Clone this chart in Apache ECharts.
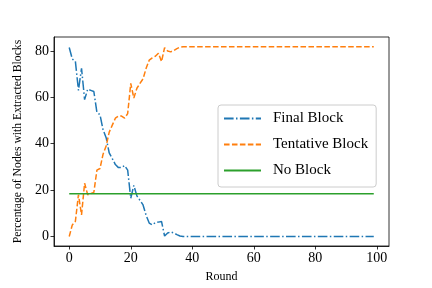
<!DOCTYPE html>
<html>
<head>
<meta charset="utf-8">
<script src="https://cdn.jsdelivr.net/npm/echarts@6/dist/echarts.min.js"></script>
<style>html,body{margin:0;padding:0;background:#fff}#c{width:432px;height:288px}</style>
</head>
<body>
<div id="c"></div>
<script>
var seriesNames = ['Final Block', 'Tentative Block', 'No Block'];
var xTicks = [0, 20, 40, 60, 80, 100];
var yTicks = [0, 20, 40, 60, 80];
var finalBlock = [81.5, 76.5, 75.5, 63, 72.5, 59, 63.5, 63, 62.5, 53.5,
  52.5, 46, 42.6, 36, 33.6, 31, 29.7, 29.7, 30.6, 28.6,
  16.5, 22, 17.5, 15.6, 13.6, 9.1, 5.8, 5, 6, 6.2,
  6.5, 0.2, 1.5, 2, 1.5, 0.8, 0.2, 0, 0, 0,
  0, 0, 0, 0, 0, 0, 0, 0, 0, 0,
  0, 0, 0, 0, 0, 0, 0, 0, 0, 0,
  0, 0, 0, 0, 0, 0, 0, 0, 0, 0,
  0, 0, 0, 0, 0, 0, 0, 0, 0, 0,
  0, 0, 0, 0, 0, 0, 0, 0, 0, 0,
  0, 0, 0, 0, 0, 0, 0, 0, 0, 0];
var tentativeBlock = [0, 5, 6.5, 18, 9.3, 23, 18, 18.5, 19, 28.6,
  29.3, 35.5, 39, 45, 48, 51, 51.9, 51.9, 51, 53,
  66, 59.7, 63.9, 66, 68, 72.5, 76, 77, 77.7, 79,
  75.4, 81.4, 80, 79.6, 80.2, 81, 81.6, 81.8, 81.8, 81.8,
  81.8, 81.8, 81.8, 81.8, 81.8, 81.8, 81.8, 81.8, 81.8, 81.8,
  81.8, 81.8, 81.8, 81.8, 81.8, 81.8, 81.8, 81.8, 81.8, 81.8,
  81.8, 81.8, 81.8, 81.8, 81.8, 81.8, 81.8, 81.8, 81.8, 81.8,
  81.8, 81.8, 81.8, 81.8, 81.8, 81.8, 81.8, 81.8, 81.8, 81.8,
  81.8, 81.8, 81.8, 81.8, 81.8, 81.8, 81.8, 81.8, 81.8, 81.8,
  81.8, 81.8, 81.8, 81.8, 81.8, 81.8, 81.8, 81.8, 81.8, 81.8];
var noBlock = [18.4, 18.4, 18.4, 18.4, 18.4, 18.4, 18.4, 18.4, 18.4, 18.4,
  18.4, 18.4, 18.4, 18.4, 18.4, 18.4, 18.4, 18.4, 18.4, 18.4,
  18.4, 18.4, 18.4, 18.4, 18.4, 18.4, 18.4, 18.4, 18.4, 18.4,
  18.4, 18.4, 18.4, 18.4, 18.4, 18.4, 18.4, 18.4, 18.4, 18.4,
  18.4, 18.4, 18.4, 18.4, 18.4, 18.4, 18.4, 18.4, 18.4, 18.4,
  18.4, 18.4, 18.4, 18.4, 18.4, 18.4, 18.4, 18.4, 18.4, 18.4,
  18.4, 18.4, 18.4, 18.4, 18.4, 18.4, 18.4, 18.4, 18.4, 18.4,
  18.4, 18.4, 18.4, 18.4, 18.4, 18.4, 18.4, 18.4, 18.4, 18.4,
  18.4, 18.4, 18.4, 18.4, 18.4, 18.4, 18.4, 18.4, 18.4, 18.4,
  18.4, 18.4, 18.4, 18.4, 18.4, 18.4, 18.4, 18.4, 18.4, 18.4];

function pairs(arr) { return arr.map(function (v, i) { return [i, v]; }); }
var FONT = '"Liberation Serif", "Times New Roman", serif';
var chart = echarts.init(document.getElementById('c'), null, { renderer: 'canvas' });
var axisCommon = {
  axisLine: { show: true, onZero: false, lineStyle: { color: '#000', width: 0.8 } },
  axisTick: { show: true, length: 3.5, inside: false, lineStyle: { color: '#000', width: 0.8 } },
  splitLine: { show: false },
  axisLabel: { color: '#000', fontFamily: FONT, fontSize: 14, margin: 5 },
  nameTextStyle: { color: '#000', fontFamily: FONT, fontSize: 12 }
};
chart.setOption({
  animation: false,
  backgroundColor: '#fff',
  grid: { left: 54, right: 43, top: 37, bottom: 35, show: true, borderColor: '#000', borderWidth: 0.8, containLabel: false },
  xAxis: echarts.util.merge({
    type: 'value', min: -4.95, max: 103.95,
    name: 'Round', nameLocation: 'middle', nameGap: 25,
    axisTick: { customValues: xTicks },
    axisLabel: { customValues: xTicks }
  }, axisCommon),
  yAxis: echarts.util.merge({
    type: 'value', min: -4.1, max: 86,
    name: 'Percentage of Nodes with Extracted Blocks', nameLocation: 'middle', nameGap: 29,
    nameTextStyle: { fontSize: 11.7 },
    axisTick: { customValues: yTicks },
    axisLabel: { customValues: yTicks }
  }, axisCommon),
  legend: {
    orient: 'vertical', left: 218, top: 105,
    padding: [6, 8, 9, 5], itemGap: 11, itemWidth: 37, itemHeight: 14,
    backgroundColor: 'rgba(255,255,255,0.8)', borderColor: '#cccccc', borderWidth: 1, borderRadius: 3,
    itemStyle: { opacity: 0 },
    textStyle: { color: '#000', fontFamily: FONT, fontSize: 15, padding: [0, 0, 0, 7] },
    data: seriesNames
  },
  series: [
    { name: seriesNames[0], type: 'line', data: pairs(finalBlock), showSymbol: false, symbol: 'none',
      lineStyle: { color: '#1f77b4', width: 1.5, type: [9.6, 2.4, 1.5, 2.4] }, itemStyle: { color: '#1f77b4' } },
    { name: seriesNames[1], type: 'line', data: pairs(tentativeBlock), showSymbol: false, symbol: 'none',
      lineStyle: { color: '#ff7f0e', width: 1.5, type: [5.55, 2.4] }, itemStyle: { color: '#ff7f0e' } },
    { name: seriesNames[2], type: 'line', data: pairs(noBlock), showSymbol: false, symbol: 'none',
      lineStyle: { color: '#2ca02c', width: 1.5, type: 'solid' }, itemStyle: { color: '#2ca02c' } }
  ]
});
</script>
</body>
</html>
